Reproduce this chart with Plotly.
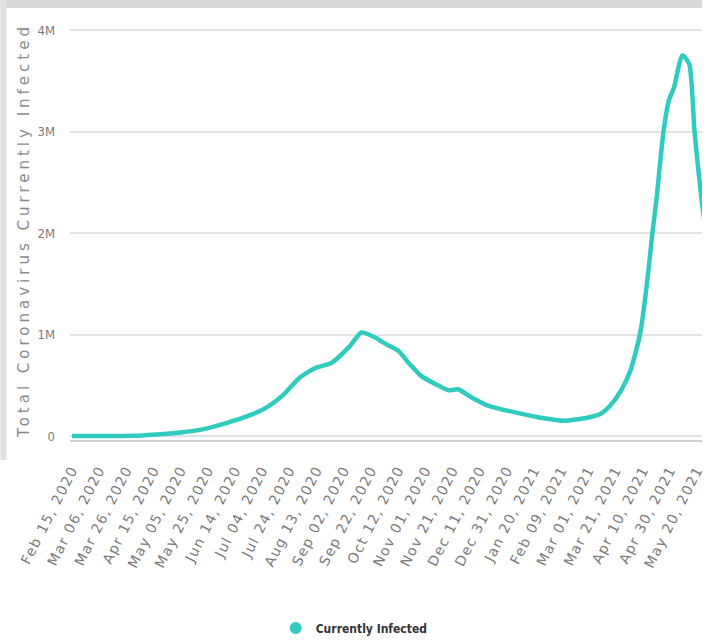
import plotly.graph_objects as go

dates = [
    "2020-02-15", "2020-03-15", "2020-04-01", "2020-04-20", "2020-05-05",
    "2020-05-19", "2020-06-08", "2020-06-24", "2020-07-07", "2020-07-19",
    "2020-07-31", "2020-08-12", "2020-08-24", "2020-09-06", "2020-09-15",
    "2020-09-25", "2020-10-01", "2020-10-12", "2020-10-21", "2020-10-29",
    "2020-11-10", "2020-11-18", "2020-11-25", "2020-12-05", "2020-12-17",
    "2021-01-10", "2021-01-25", "2021-02-11", "2021-02-28", "2021-03-10",
    "2021-03-17", "2021-03-25", "2021-04-01", "2021-04-08", "2021-04-13",
    "2021-04-17", "2021-04-20", "2021-04-25", "2021-04-29", "2021-05-03",
    "2021-05-09", "2021-05-14", "2021-05-18", "2021-05-23", "2021-05-27",
]
currently_infected = [
    3, 100, 2000, 18000, 35000,
    60000, 130000, 200000, 280000, 400000,
    570000, 670000, 720000, 880000, 1020000,
    970000, 920000, 840000, 700000, 590000,
    500000, 450000, 460000, 380000, 300000,
    220000, 180000, 150000, 180000, 220000,
    300000, 450000, 650000, 1010000, 1500000,
    2000000, 2330000, 2980000, 3300000, 3440000,
    3750000, 3670000, 3000000, 2350000, 1950000,
]

x_tick_vals = [
    "2020-02-15", "2020-03-06", "2020-03-26", "2020-04-15", "2020-05-05",
    "2020-05-25", "2020-06-14", "2020-07-04", "2020-07-24", "2020-08-13",
    "2020-09-02", "2020-09-22", "2020-10-12", "2020-11-01", "2020-11-21",
    "2020-12-11", "2020-12-31", "2021-01-20", "2021-02-09", "2021-03-01",
    "2021-03-21", "2021-04-10", "2021-04-30", "2021-05-20",
]
x_tick_text = [
    "Feb 15, 2020", "Mar 06, 2020", "Mar 26, 2020", "Apr 15, 2020", "May 05, 2020",
    "May 25, 2020", "Jun 14, 2020", "Jul 04, 2020", "Jul 24, 2020", "Aug 13, 2020",
    "Sep 02, 2020", "Sep 22, 2020", "Oct 12, 2020", "Nov 01, 2020", "Nov 21, 2020",
    "Dec 11, 2020", "Dec 31, 2020", "Jan 20, 2021", "Feb 09, 2021", "Mar 01, 2021",
    "Mar 21, 2021", "Apr 10, 2021", "Apr 30, 2021", "May 20, 2021",
]
y_tick_vals = [0, 1000000, 2000000, 3000000, 4000000]
y_tick_text = ["0", "1M", "2M", "3M", "4M"]

LINE_COLOR = "#2fcbbf"
W, H = 706, 643
L, R, T, B = 70, 0, 20, 203
PW, PH = W - L - R, H - T - B


def px_x(px):
    return (px - L) / PW


def px_y(py):
    return (H - B - py) / PH


fig = go.Figure()
fig.add_trace(go.Scatter(
    x=dates, y=currently_infected, mode="lines",
    line=dict(color=LINE_COLOR, width=4.5, shape="spline", smoothing=0.6),
    showlegend=False, hoverinfo="x+y",
))
fig.add_trace(go.Scatter(
    x=[None], y=[None], mode="markers", name="Currently Infected",
    marker=dict(color=LINE_COLOR, size=12, symbol="circle"),
))

fig.update_layout(
    width=W, height=H,
    margin=dict(l=L, r=R, t=T, b=B),
    paper_bgcolor="white", plot_bgcolor="white",
    showlegend=True,
    legend=dict(
        orientation="h", x=px_x(356), y=px_y(628), xanchor="center", yanchor="middle",
        font=dict(family="DejaVu Sans Condensed, Liberation Sans Narrow, Liberation Sans",
                  size=12, color="#333333", weight="bold"),
        itemwidth=30,
    ),
    xaxis=dict(
        type="date",
        range=["2020-02-13 12:00", "2021-05-23 12:00"],
        tickvals=x_tick_vals, ticktext=x_tick_text,
        tickangle=-63,
        tickfont=dict(family="DejaVu Sans", size=14, color="#7a7a7a"),
        showgrid=False, zeroline=False,
        showline=True, linecolor="#d0d0d0", linewidth=2,
        ticklabelstandoff=14,
        ticklabeloverflow="allow",
    ),
    yaxis=dict(
        range=[-39400, 4098500],
        tickvals=y_tick_vals, ticktext=y_tick_text,
        tickfont=dict(family="DejaVu Sans Condensed, Liberation Sans Narrow, Liberation Sans",
                      size=13, color="#7a7a7a"),
        gridcolor="#e2e2e2", gridwidth=2,
        zeroline=False,
        ticklabelstandoff=14,
        title=dict(
            text="Total Coronavirus Currently Infected",
            font=dict(family="DejaVu Sans", size=15, color="#8a8a8a"),
            standoff=4,
        ),
        automargin=False,
    ),
    shapes=[
        dict(type="rect", xref="paper", yref="paper",
             x0=px_x(0), x1=px_x(W), y0=px_y(8), y1=px_y(0),
             fillcolor="#d9d9d9", line=dict(width=0), layer="below"),
        dict(type="rect", xref="paper", yref="paper",
             x0=px_x(0), x1=px_x(6), y0=px_y(460), y1=px_y(0),
             fillcolor="#e0e0e0", line=dict(width=0), layer="below"),
    ],
)

spacing_js = (
    "var s=document.createElement('style');"
    "s.textContent='.ytitle{letter-spacing:4px} .xtick text{letter-spacing:1.4px}';"
    "document.head.appendChild(s);"
)

fig.write_html("out.html", post_script=spacing_js)
